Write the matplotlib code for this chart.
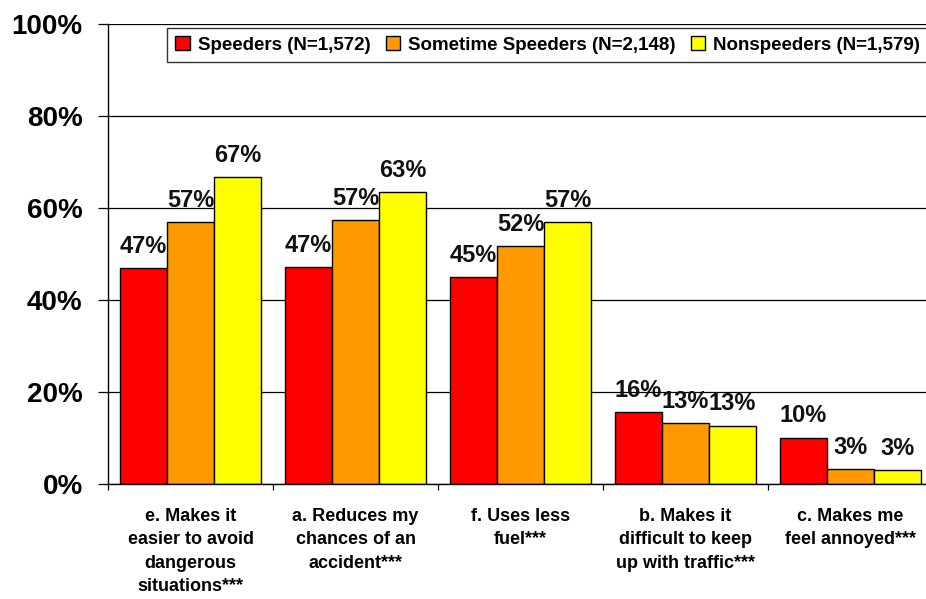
import matplotlib
matplotlib.use("Agg")
import matplotlib.pyplot as plt
import numpy as np

plt.rcParams['font.family'] = ['Liberation Sans', 'DejaVu Sans']
plt.rcParams['font.weight'] = 'bold'

categories = [
    "e. Makes it\neasier to avoid\ndangerous\nsituations***",
    "a. Reduces my\nchances of an\naccident***",
    "f. Uses less\nfuel***",
    "b. Makes it\ndifficult to keep\nup with traffic***",
    "c. Makes me\nfeel annoyed***",
]
series_names = ["Speeders (N=1,572)", "Sometime Speeders (N=2,148)", "Nonspeeders (N=1,579)"]
speeders = [46.9, 47.2, 45.0, 15.6, 10.1]
sometime = [56.9, 57.3, 51.7, 13.3, 3.3]
nonspeeders = [66.7, 63.4, 56.9, 12.7, 3.0]
colors = ["#FF0000", "#FF9900", "#FFFF00"]
yticks = [0, 20, 40, 60, 80, 100]
ytick_labels = ["0%", "20%", "40%", "60%", "80%", "100%"]

W, H = 926, 599
fig = plt.figure(figsize=(W / 100, H / 100), dpi=100)
ax = fig.add_axes([108 / W, (H - 484) / H, 825 / W, 460 / H])

x = np.arange(len(categories))
bw = 0.285
all_series = [speeders, sometime, nonspeeders]
for i, (vals, col, name) in enumerate(zip(all_series, colors, series_names)):
    pos = x + (i - 1) * bw
    ax.bar(pos, vals, width=bw, color=col, edgecolor='black', linewidth=1.0,
           label=name, zorder=3)
    for p, v in zip(pos, vals):
        ax.annotate(f"{round(v):d}%", (p, v), xytext=(0, 11), textcoords='offset points',
                    ha='center', va='baseline', fontsize=17, fontweight='bold',
                    color='#111111', zorder=5)

ax.set_xlim(-0.5, len(categories) - 0.5)
ax.set_ylim(0, 100)
ax.set_yticks(yticks)
ax.set_yticklabels(ytick_labels, fontsize=20, fontweight='bold')
ax.tick_params(axis='y', direction='out', length=7.2, width=0.9, pad=11)

ax.set_xticks(x)
ax.set_xticklabels(categories, fontsize=13, fontweight='bold', linespacing=1.5)
ax.tick_params(axis='x', which='major', length=0, pad=17)
ax.set_xticks(np.arange(-0.5, len(categories)), minor=True)
ax.tick_params(axis='x', which='minor', direction='out', length=4.5, width=0.9)

ax.yaxis.grid(True, color='black', linewidth=0.9, zorder=0)
ax.set_axisbelow(True)
for s in ['top', 'right']:
    ax.spines[s].set_visible(False)
for s in ['left', 'bottom']:
    ax.spines[s].set_color('black')
    ax.spines[s].set_linewidth(1.0)
    ax.spines[s].set_zorder(4)

leg = fig.legend(loc='upper left', bbox_to_anchor=(167 / W, 1 - 28 / H), ncol=3,
                 fontsize=13.5, frameon=True, fancybox=False, edgecolor='black',
                 handlelength=0.75, handleheight=0.75, handletextpad=0.45,
                 columnspacing=0.8, borderpad=0.45, borderaxespad=0)
leg.get_frame().set_linewidth(1.0)
for t in leg.get_texts():
    t.set_fontweight('bold')

fig.savefig("out.png", dpi=100)
